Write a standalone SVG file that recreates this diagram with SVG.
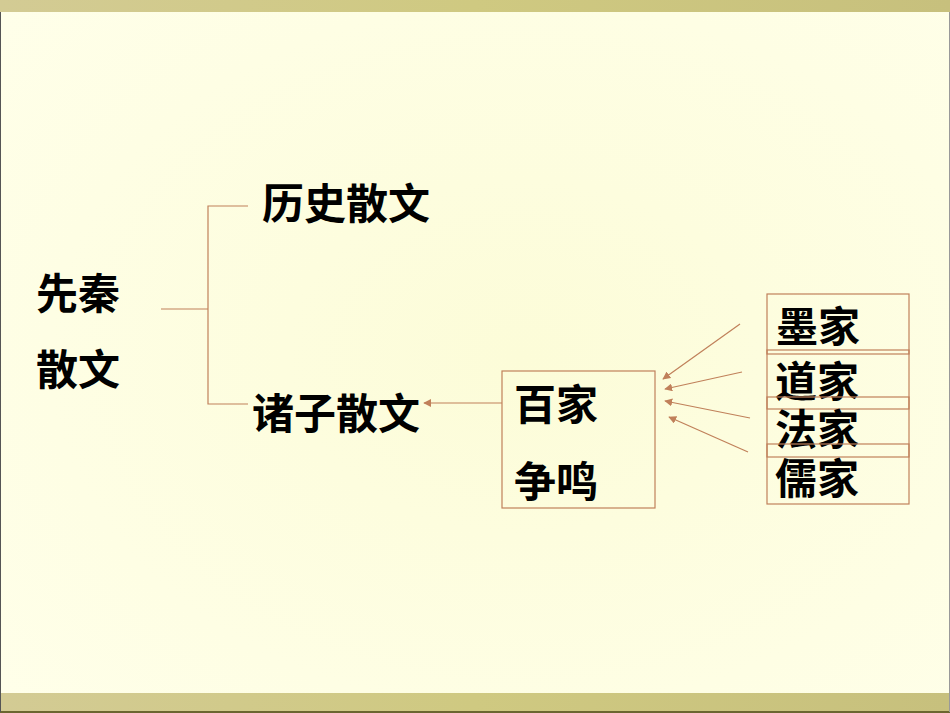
<svg xmlns="http://www.w3.org/2000/svg" width="950" height="713" viewBox="0 0 950 713">
<defs>
<radialGradient id="bg" cx="0.55" cy="0.5" r="0.75">
<stop offset="0" stop-color="#FCFCD8"/>
<stop offset="1" stop-color="#FFFFEA"/>
</radialGradient>
<linearGradient id="bar" x1="0" y1="0" x2="1" y2="0">
<stop offset="0" stop-color="#D3CB94"/>
<stop offset="0.5" stop-color="#CFC981"/>
<stop offset="1" stop-color="#C7C07D"/>
</linearGradient>
<marker id="ah" viewBox="0 0 10 10" refX="9" refY="5" markerWidth="8" markerHeight="8" markerUnits="userSpaceOnUse" orient="auto">
<path d="M0,0 L10,5 L0,10 Z" fill="#C0805A"/>
</marker>
<style>
.t{font-family:"Noto Sans CJK SC","Noto Sans CJK JP",sans-serif;font-weight:bold;font-size:42px;fill:#000}
.ln{stroke:#C0805A;stroke-width:1.2;fill:none}
.bx{stroke:#C0805A;stroke-width:1.2;fill:none}
</style>
</defs>
<rect width="950" height="713" fill="url(#bg)"/>
<rect x="0" y="0" width="950" height="12" fill="url(#bar)"/>
<rect x="0" y="693" width="950" height="20" fill="url(#bar)"/>
<line x1="0" y1="712" x2="950" y2="712" stroke="#6B6630" stroke-width="2"/>
<line x1="0.5" y1="12" x2="0.5" y2="712" stroke="#555" stroke-width="1"/>
<line x1="949.5" y1="12" x2="949.5" y2="712" stroke="#999" stroke-width="1"/>

<g id="xianqin"><text class="t" x="36" y="309">先秦</text><text class="t" x="36" y="385">散文</text></g>
<g id="lishi"><text class="t" x="262" y="219">历史散文</text></g>
<g id="zhuzi"><text class="t" x="252" y="429">诸子散文</text></g>
<g id="baijia"><rect class="bx" x="502" y="371" width="153" height="137"/><text class="t" x="514" y="420">百家</text><text class="t" x="514" y="497">争鸣</text></g>
<g id="mojia"><rect class="bx" x="767" y="294" width="142" height="60"/><text class="t" x="776" y="342">墨家</text></g>
<g id="daojia"><rect class="bx" x="767" y="350" width="142" height="59"/><text class="t" x="775" y="397">道家</text></g>
<g id="fajia"><rect class="bx" x="767" y="397" width="142" height="60"/><text class="t" x="775" y="445">法家</text></g>
<g id="rujia"><rect class="bx" x="767" y="444" width="142" height="60"/><text class="t" x="775" y="494">儒家</text></g>

<g id="connectors">
<path class="ln" d="M161,309 H208 M248,206 H208 V404 H248"/>
<line class="ln" x1="502" y1="403" x2="424" y2="403" marker-end="url(#ah)"/>
<line class="ln" x1="740" y1="324" x2="663" y2="379" marker-end="url(#ah)"/>
<line class="ln" x1="742" y1="372" x2="665" y2="389" marker-end="url(#ah)"/>
<line class="ln" x1="750" y1="418" x2="665" y2="401" marker-end="url(#ah)"/>
<line class="ln" x1="748" y1="452" x2="669" y2="417" marker-end="url(#ah)"/>
</g>
</svg>
